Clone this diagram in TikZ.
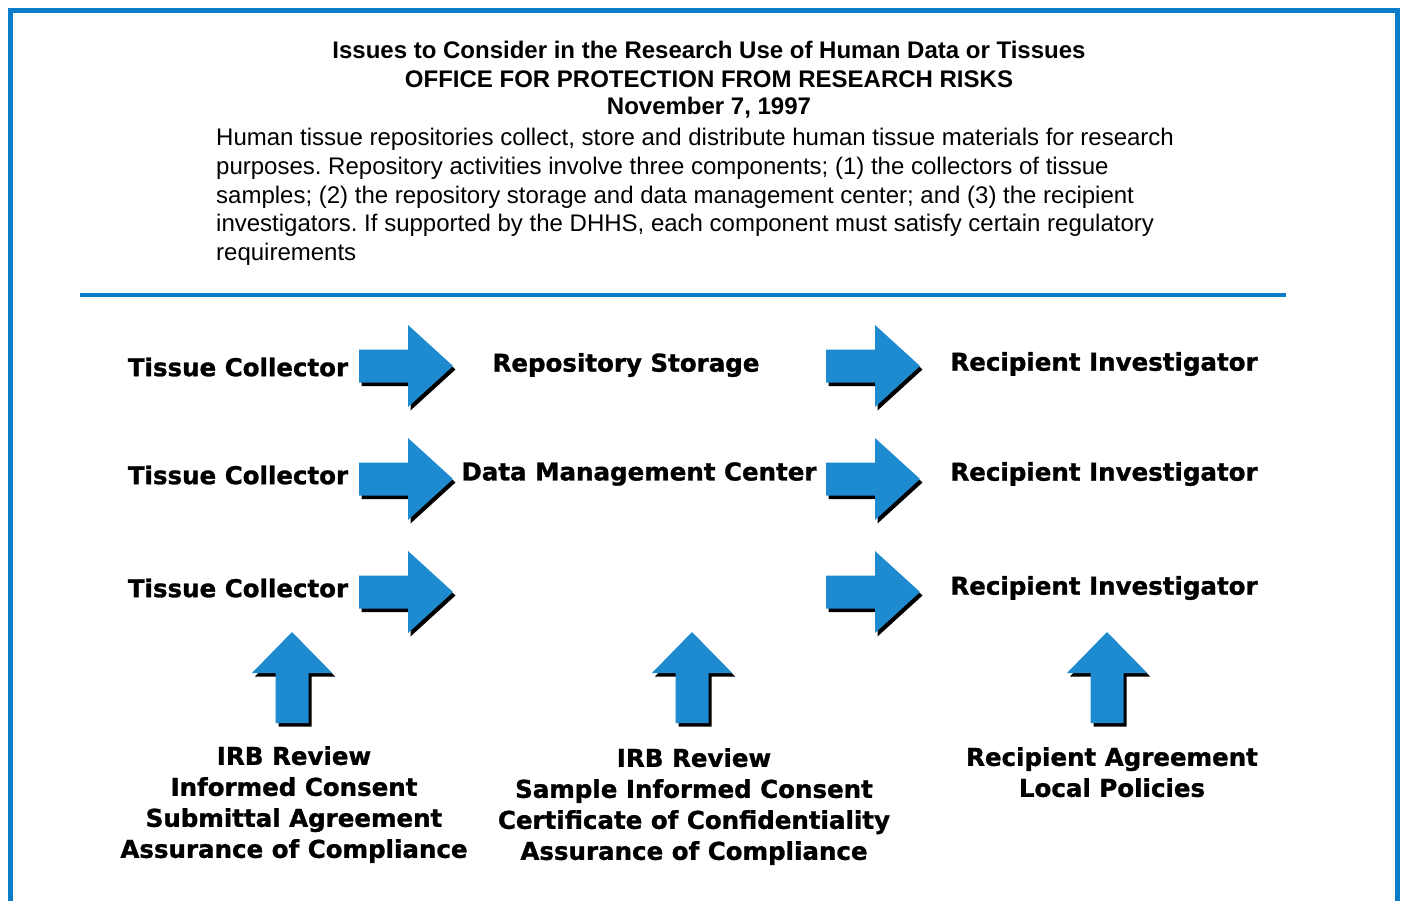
\documentclass[tikz,border=0pt]{standalone}
\usepackage{fontspec}
\setmainfont{Liberation Sans}
\newfontfamily\lblfont{DejaVu Sans}[BoldFeatures={FakeBold=1.2}]
\definecolor{frameblue}{HTML}{0A7ECA}
\definecolor{arrowblue}{HTML}{1E8AD0}
\frenchspacing
\tikzset{
  frame/.style={draw=frameblue, line width=5pt},
  rule/.style={draw=frameblue, line width=4pt},
  title/.style={font=\fontsize{24}{28}\selectfont\bfseries, inner sep=0pt},
  body/.style={font=\fontsize{24}{28.8}\selectfont, align=left, inner sep=0pt, anchor=north west},
  lbl/.style={font=\lblfont\fontsize{24.5}{31}\selectfont\bfseries, inner sep=0pt, align=center},
  blockarrow/.style={fill=arrowblue},
  arrowshadow/.style={fill=black}
}
\newcommand{\rightblock}[1]{%
  \fill[arrowshadow, shift={(#1)}, shift={(2.5,3.5)}] (0,-16.5) -- (49,-16.5) -- (49,-41) -- (94,0) -- (49,41) -- (49,16.5) -- (0,16.5) -- cycle;
  \fill[blockarrow, shift={(#1)}] (0,-16.5) -- (49,-16.5) -- (49,-41) -- (94,0) -- (49,41) -- (49,16.5) -- (0,16.5) -- cycle;}
\newcommand{\upblock}[1]{%
  \fill[arrowshadow, shift={(#1)}, shift={(3,3.5)}] (-16.5,0) -- (-16.5,-50) -- (-40,-50) -- (0,-91) -- (40,-50) -- (16.5,-50) -- (16.5,0) -- cycle;
  \fill[blockarrow, shift={(#1)}] (-16.5,0) -- (-16.5,-50) -- (-40,-50) -- (0,-91) -- (40,-50) -- (16.5,-50) -- (16.5,0) -- cycle;}
\begin{document}
\begin{tikzpicture}[x=1pt, y=-1pt]
\useasboundingbox (0,0) rectangle (1403,901);
\fill[white] (0,0) rectangle (1403,901);
% frame, open at bottom
\draw[frame] (10.5,905) -- (10.5,10.5) -- (1397.5,10.5) -- (1397.5,905);
% header
\node[title] (t1) at (709,50) {Issues to Consider in the Research Use of Human Data or Tissues};
\node[title] (t2) at (709,79) {OFFICE FOR PROTECTION FROM RESEARCH RISKS};
\node[title] (t3) at (709,108) {November 7, 1997};
\node[body] (intro) at (216,128) {Human tissue repositories collect, store and distribute human tissue materials for research\\
purposes. Repository activities involve three components; (1) the collectors of tissue\\
samples; (2) the repository storage and data management center; and (3) the recipient\\
investigators. If supported by the DHHS, each component must satisfy certain regulatory\\
requirements};
\coordinate (ruleL) at (80,295);
\coordinate (ruleR) at (1286,295);
\draw[rule] (ruleL) -- (ruleR);
% arrows
\coordinate (a11) at (359,366);
\coordinate (a21) at (359,479);
\coordinate (a31) at (359,592);
\coordinate (a12) at (826,366);
\coordinate (a22) at (826,479);
\coordinate (a32) at (826,592);
\rightblock{a11}\rightblock{a21}\rightblock{a31}
\rightblock{a12}\rightblock{a22}\rightblock{a32}
\coordinate (u1) at (292,723);
\coordinate (u2) at (692,723);
\coordinate (u3) at (1107,723);
\upblock{u1}\upblock{u2}\upblock{u3}
% labels
\node[lbl] (tc1) at (238,367) {Tissue Collector};
\node[lbl] (tc2) at (238,475) {Tissue Collector};
\node[lbl] (tc3) at (238,588) {Tissue Collector};
\node[lbl] (rs) at (626,365) {Repository Storage};
\node[lbl] (dm) at (639,474) {Data Management Center};
\node[lbl] (ri1) at (1104,364) {Recipient Investigator};
\node[lbl] (ri2) at (1104,474) {Recipient Investigator};
\node[lbl] (ri3) at (1104,588) {Recipient Investigator};
\node[lbl, anchor=north] (b1) at (294,746) {IRB Review\\Informed Consent\\Submittal Agreement\\Assurance of Compliance};
\node[lbl, anchor=north] (b2) at (694,748) {IRB Review\\Sample Informed Consent\\Certificate of Confidentiality\\Assurance of Compliance};
\node[lbl, anchor=north] (b3) at (1112,747) {Recipient Agreement\\Local Policies};
\end{tikzpicture}
\end{document}
